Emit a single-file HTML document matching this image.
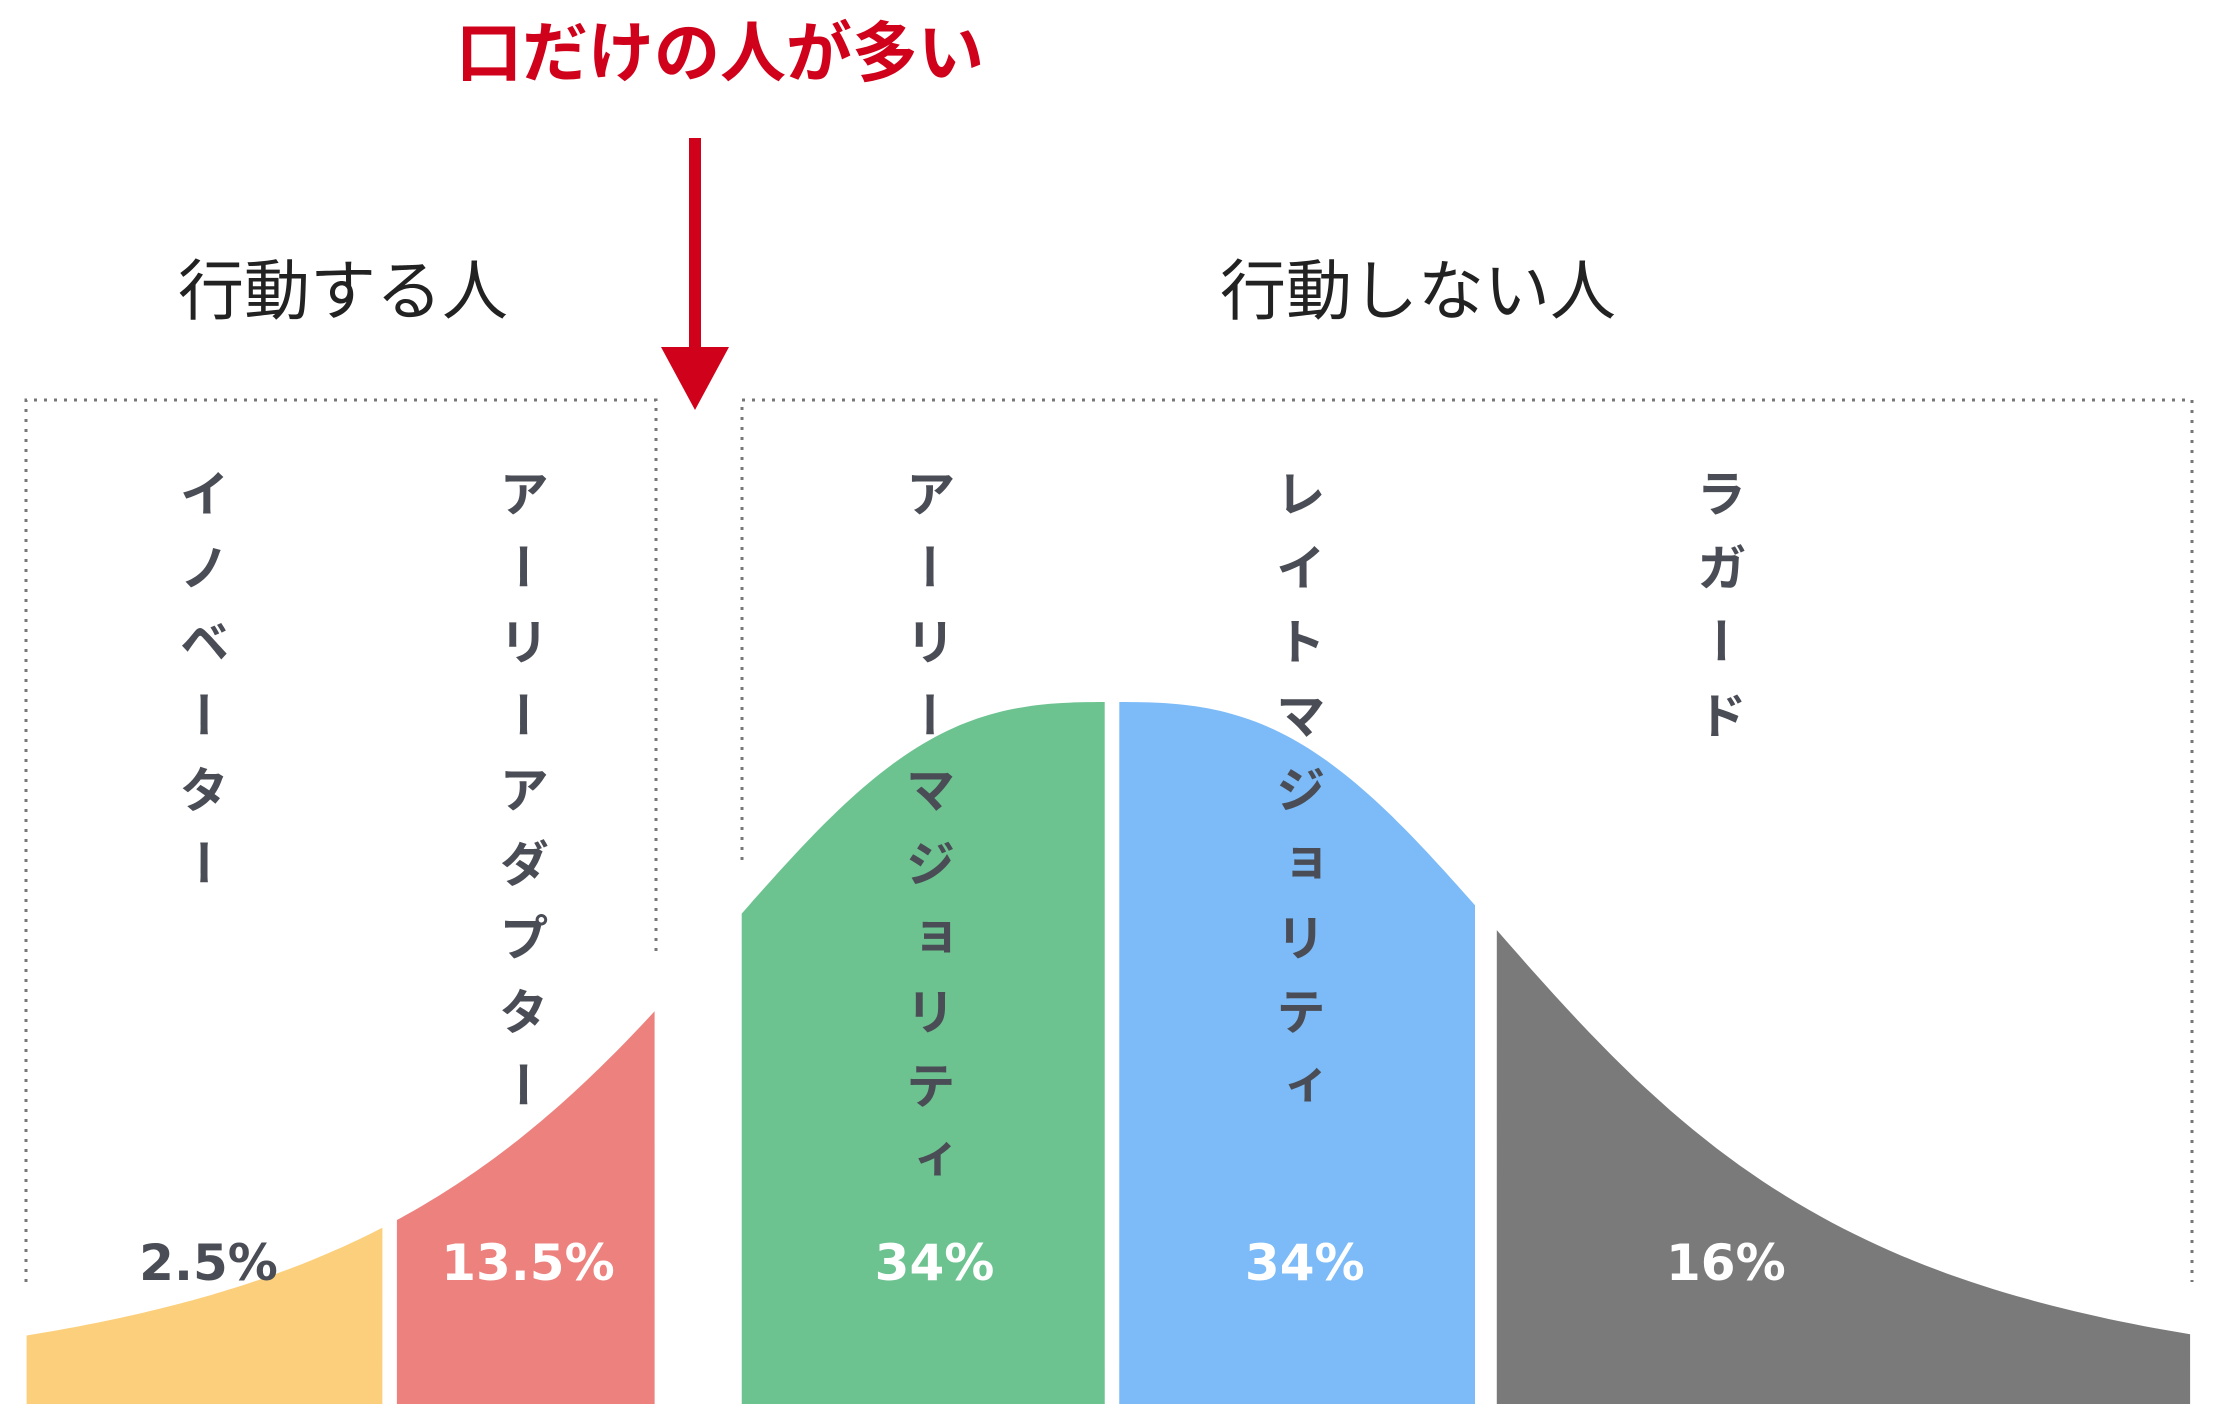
<!DOCTYPE html>
<html><head><meta charset="utf-8">
<style>
html,body{margin:0;padding:0;background:#fff;}
body{width:2224px;height:1428px;position:relative;overflow:hidden;font-family:"Liberation Sans","Noto Sans CJK JP",sans-serif;}
svg{position:absolute;left:0;top:0;}
.vlabel{position:absolute;top:468px;width:60px;writing-mode:vertical-rl;text-orientation:upright;font-family:"Noto Sans CJK JP",sans-serif;font-weight:bold;font-size:50px;letter-spacing:24px;color:#4a4d55;line-height:60px;}
</style></head>
<body>
<svg id="chart" width="2224" height="1428" viewBox="0 0 2224 1428">
  <text x="720" y="76" text-anchor="middle" font-family="'Liberation Sans','Noto Sans CJK JP',sans-serif" font-weight="bold" font-size="66" fill="#d0021b">口だけの人が多い</text>
  <rect x="689" y="138" width="12" height="212" fill="#d0021b"/>
  <polygon points="661,347 729,347 695,410" fill="#d0021b"/>
  <text x="343" y="314" text-anchor="middle" font-family="'Liberation Sans','Noto Sans CJK JP',sans-serif" font-size="66" fill="#222">行動する人</text>
  <text x="1418" y="314" text-anchor="middle" font-family="'Liberation Sans','Noto Sans CJK JP',sans-serif" font-size="66" fill="#222">行動しない人</text>
  <g fill="none" stroke="#777" stroke-width="3" stroke-dasharray="3,7">
    <path d="M26,1282 V400 H656 V955"/>
    <path d="M742,860 V400 H2192 V1282"/>
  </g>
  <g id="segments"></g>
  <g id="labels"></g>
</svg>
<div id="vlabels"></div>
<script>
const categories = ["イノベーター","アーリーアダプター","アーリーマジョリティ","レイトマジョリティ","ラガード"];
const shares = [2.5, 13.5, 34, 34, 16];
const segStart = [-2.99, -1.97, -1.02, 0.02, 1.06];
const segEnd = [-2.01, -1.26, -0.02, 1.0, 2.97];
const labelU = [-2.5, -1.62, -0.5, 0.52, 1.68];
const colors = ["#fbcf7b","#ed817d","#6cc390","#7cbbf7","#7a7a7a"];
const pctColors = ["#4a4d55","#fff","#fff","#fff","#fff"];

const cx = 1112, sigmaPx = 363, baseY = 1404, peakH = 702;
function xScale(u){ return cx + u*sigmaPx; }
function density(u){ return 1/(1+Math.pow(Math.abs(u)/1.37, 2.85)); }
function yScale(d){ return baseY - d*peakH; }

const NS = "http://www.w3.org/2000/svg";
const segG = document.getElementById('segments');
const labG = document.getElementById('labels');
const vl = document.getElementById('vlabels');
for (let i = 0; i < categories.length; i++) {
  const a = segStart[i], b = segEnd[i];
  let d = "M" + xScale(a) + "," + baseY;
  const n = 60;
  for (let k = 0; k <= n; k++) {
    const u = a + (b - a) * k / n;
    d += " L" + xScale(u).toFixed(1) + "," + yScale(density(u)).toFixed(1);
  }
  d += " L" + xScale(b) + "," + baseY + " Z";
  const p = document.createElementNS(NS, 'path');
  p.setAttribute('d', d);
  p.setAttribute('fill', colors[i]);
  
  
  segG.appendChild(p);

  const lx = xScale(labelU[i]);
  const t = document.createElementNS(NS, 'text');
  t.setAttribute('x', lx + 4);
  t.setAttribute('y', 1280);
  t.setAttribute('text-anchor', 'middle');
  t.setAttribute('font-weight', 'bold');
  t.setAttribute('font-size', '50');
  t.setAttribute('font-family', "'DejaVu Sans','Liberation Sans',sans-serif");
  t.setAttribute('fill', pctColors[i]);
  t.textContent = shares[i] + "%";
  
  
  labG.appendChild(t);

  const dv = document.createElement('div');
  dv.className = 'vlabel';
  dv.style.left = (lx - 30) + 'px';
  dv.textContent = categories[i];
  
  
  vl.appendChild(dv);
}
</script>
</body></html>
